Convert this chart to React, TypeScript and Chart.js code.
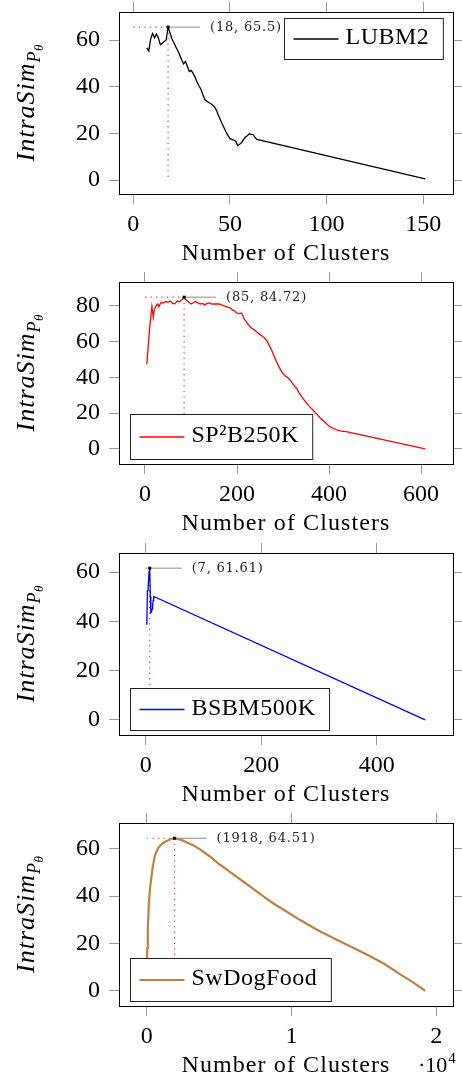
import React, { useEffect, useRef } from "react";
import { Chart, registerables } from "chart.js";

Chart.register(...registerables);

const SERIF = "'Liberation Serif', 'Times New Roman', serif";

// ---------- LUBM2 ----------
const lubmClusters = [7, 8, 9, 10, 11, 12, 13, 14, 15, 16, 17, 18, 19, 20, 21, 22, 23, 24, 25, 26, 27, 28, 29, 30, 31, 32, 33, 34, 35, 36, 37, 38, 39, 40, 41, 42, 43, 44, 45, 46, 47, 48, 49, 50, 51, 52, 53, 54, 55, 56, 57, 58, 59, 60, 61, 62, 63, 64, 151];
const lubmSim = [56.6, 55.2, 60.5, 62.8, 61.0, 62.6, 60.8, 58.0, 58.6, 59.4, 60.0, 65.5, 63.0, 60.4, 58.8, 57.0, 55.5, 53.6, 51.5, 49.8, 50.8, 48.6, 46.5, 47.0, 45.6, 44.0, 42.0, 40.3, 38.9, 36.5, 34.5, 33.8, 33.2, 32.8, 32.2, 31.3, 29.9, 27.8, 25.9, 24.0, 22.3, 20.6, 19.0, 17.9, 17.3, 17.1, 16.6, 14.8, 15.3, 16.0, 17.3, 18.4, 19.0, 19.8, 19.6, 19.4, 18.2, 17.4, 0.5];
const lubmPeak = [18, 65.5];
const lubmXTicks = [0, 50, 100, 150];
const lubmYTicks = [0, 20, 40, 60];

// ---------- SP2B250K ----------
const sp2bClusters = [4, 10, 13, 15, 18, 20, 25, 28, 30, 35, 40, 45, 50, 55, 60, 65, 70, 75, 80, 85, 90, 95, 100, 105, 110, 115, 120, 125, 130, 135, 140, 145, 150, 155, 160, 165, 170, 175, 180, 185, 190, 195, 200, 205, 210, 215, 220, 225, 230, 235, 240, 245, 250, 255, 260, 265, 270, 275, 280, 285, 290, 295, 300, 305, 310, 315, 320, 325, 330, 335, 340, 345, 350, 355, 360, 365, 370, 375, 380, 385, 390, 395, 400, 405, 410, 415, 420, 425, 430, 435, 440, 609];
const sp2bSim = [47.3, 67.0, 74.5, 79.5, 73.5, 77.5, 80.2, 80.9, 79.4, 81.8, 81.5, 82.3, 81.9, 82.6, 81.3, 81.0, 82.6, 82.2, 83.3, 84.72, 83.0, 82.0, 80.9, 81.6, 82.3, 81.5, 80.9, 81.2, 80.4, 81.2, 81.5, 80.8, 81.0, 80.9, 81.0, 80.5, 80.0, 79.6, 79.1, 78.8, 77.6, 77.0, 75.8, 75.5, 75.9, 73.0, 71.0, 69.2, 67.8, 66.9, 65.9, 64.9, 63.8, 62.9, 61.9, 60.5, 57.8, 55.2, 52.3, 49.2, 46.5, 44.0, 42.0, 40.8, 39.8, 38.6, 36.8, 35.2, 33.6, 31.3, 29.3, 27.6, 26.0, 24.4, 23.0, 21.7, 20.3, 19.0, 17.5, 16.3, 15.1, 13.8, 12.8, 11.9, 11.3, 10.8, 10.3, 10.0, 9.8, 9.7, 9.5, 0];
const sp2bPeak = [85, 84.72];
const sp2bXTicks = [0, 200, 400, 600];
const sp2bYTicks = [0, 20, 40, 60, 80];

// ---------- BSBM500K ----------
const bsbmClusters = [2, 3, 4, 5, 6, 7, 8, 9, 10, 11, 12, 13, 14, 484];
const bsbmSim = [38.6, 52.4, 52.6, 57.0, 60.4, 61.61, 50.0, 43.5, 43.8, 45.0, 46.5, 48.5, 50.1, 0];
const bsbmPeak = [7, 61.61];
const bsbmXTicks = [0, 200, 400];
const bsbmYTicks = [0, 20, 40, 60];

// ---------- SwDogFood ----------
const dogClusters = [1, 30, 70, 140, 235, 374, 533, 650, 764, 930, 1110, 1290, 1455, 1700, 1918, 2265, 2500, 2730, 3190, 3650, 4340, 5040, 5960, 7110, 8060, 8750, 9680, 10600, 11760, 12920, 14080, 15240, 16400, 17550, 18480, 19240];
const dogSim = [8, 18, 25.7, 36.9, 43.9, 50.9, 56.5, 58.6, 60.1, 61.4, 62.4, 63.1, 63.6, 64.2, 64.51, 64.0, 63.5, 62.8, 61.6, 59.9, 56.9, 53.4, 49.3, 44.2, 39.9, 36.9, 33.4, 29.9, 25.8, 22.2, 18.7, 15.2, 11.4, 6.8, 3.2, 0];
const dogPeak = [1918, 64.51];
const dogXTicks = [0, 10000, 20000];
const dogYTicks = [0, 20, 40, 60];

const W = 462;

type PanelSpec = {
  name: string;
  color: string;
  xs: number[];
  ys: number[];
  peak: number[];
  xTicks: number[];
  yTicks: number[];
  lineWidth: number;
  height: number;
  offset: number;
  top: number;
  bottom: number;
  legend: "ne" | "sw";
  legendH: number;
  xExp?: number;
};

const panels: PanelSpec[] = [
  { name: "LUBM2", color: "#000000", xs: lubmClusters, ys: lubmSim, peak: lubmPeak, xTicks: lubmXTicks, yTicks: lubmYTicks, lineWidth: 1.3, height: 270, offset: 0, top: 12, bottom: 194, legend: "ne", legendH: 41 },
  { name: "SP\u00B2B250K", color: "#ff0000", xs: sp2bClusters, ys: sp2bSim, peak: sp2bPeak, xTicks: sp2bXTicks, yTicks: sp2bYTicks, lineWidth: 1.3, height: 270, offset: 270, top: 12, bottom: 194, legend: "sw", legendH: 45 },
  { name: "BSBM500K", color: "#0000ff", xs: bsbmClusters, ys: bsbmSim, peak: bsbmPeak, xTicks: bsbmXTicks, yTicks: bsbmYTicks, lineWidth: 1.3, height: 270, offset: 540, top: 13, bottom: 195, legend: "sw", legendH: 42 },
  { name: "SwDogFood", color: "#c0803f", xs: dogClusters, ys: dogSim, peak: dogPeak, xTicks: dogXTicks, yTicks: dogYTicks, lineWidth: 2.2, height: 268, offset: 810, top: 13, bottom: 196, legend: "sw", legendH: 43, xExp: 4 },
];

function drawYTitle(ctx: CanvasRenderingContext2D, cx: number, cy: number) {
  const parts = [
    { t: "IntraSim", f: `italic 26px ${SERIF}`, dy: 0, ls: 1 },
    { t: "P", f: `italic 18px ${SERIF}`, dy: 6, ls: 0.5 },
    { t: "\u03B8", f: `italic 13px ${SERIF}`, dy: 9, ls: 0 },
  ];
  ctx.save();
  ctx.translate(cx, cy);
  ctx.rotate(-Math.PI / 2);
  ctx.fillStyle = "#000";
  ctx.textBaseline = "alphabetic";
  ctx.textAlign = "left";
  const widths = parts.map((p) => {
    ctx.font = p.f;
    (ctx as any).letterSpacing = p.ls + "px";
    return ctx.measureText(p.t).width;
  });
  const total = widths.reduce((a, b) => a + b, 0);
  let x = -total / 2;
  parts.forEach((p, i) => {
    ctx.font = p.f;
    (ctx as any).letterSpacing = p.ls + "px";
    ctx.fillText(p.t, x, p.dy);
    x += widths[i];
  });
  ctx.restore();
}

function makeOverlay(spec: PanelSpec) {
  return {
    id: "overlay",
    beforeDatasetsDraw(chart: any) {
      const { ctx } = chart;
      const xs = chart.scales.x;
      const ys = chart.scales.y;
      const px = xs.getPixelForValue(spec.peak[0]);
      const py = ys.getPixelForValue(spec.peak[1]);
      const x0 = xs.getPixelForValue(0);
      const y0 = ys.getPixelForValue(0);
      ctx.save();
      ctx.strokeStyle = "rgba(255,0,0,0.8)";
      ctx.lineWidth = 1.2;
      ctx.setLineDash([1.3, 4.2]);
      ctx.beginPath();
      ctx.moveTo(x0, py);
      ctx.lineTo(px, py);
      ctx.stroke();
      ctx.beginPath();
      ctx.moveTo(px, py);
      ctx.lineTo(px, y0);
      ctx.stroke();
      ctx.restore();
    },
    afterDraw(chart: any) {
      const { ctx, chartArea: a } = chart;
      const xs = chart.scales.x;
      const ys = chart.scales.y;
      const px = xs.getPixelForValue(spec.peak[0]);
      const py = ys.getPixelForValue(spec.peak[1]);
      ctx.save();
      // connector + peak label
      ctx.strokeStyle = "#8a8a8a";
      ctx.lineWidth = 1;
      ctx.beginPath();
      ctx.moveTo(px, py);
      ctx.lineTo(px + 32, py);
      ctx.stroke();
      ctx.fillStyle = "#000";
      ctx.fillRect(px - 1.5, py - 1.5, 3, 3);
      ctx.font = "13px 'DejaVu Serif', serif";
      (ctx as any).letterSpacing = "0.8px";
      ctx.textBaseline = "middle";
      ctx.textAlign = "left";
      ctx.fillStyle = "#222";
      ctx.fillText(`(${spec.peak[0]}, ${spec.peak[1]})`, px + 42, py);

      // legend
      ctx.font = `24px ${SERIF}`;
      (ctx as any).letterSpacing = "0.5px";
      const tw = ctx.measureText(spec.name).width;
      const w = 9 + 45 + 7 + tw + 14;
      const h = spec.legendH;
      let lx: number, ly: number;
      if (spec.legend === "ne") {
        lx = a.right - 10 - w;
        ly = a.top + 6;
      } else {
        lx = a.left + 11;
        ly = a.bottom - 5 - h;
      }
      lx = Math.round(lx) + 0.5;
      ly = Math.round(ly) + 0.5;
      ctx.fillStyle = "#fff";
      ctx.fillRect(lx, ly, w, h);
      ctx.strokeStyle = "#222";
      ctx.lineWidth = 1;
      ctx.strokeRect(lx, ly, w, h);
      const cy = ly + h / 2;
      ctx.strokeStyle = spec.color;
      ctx.lineWidth = spec.lineWidth > 2 ? 2 : 1.3;
      ctx.beginPath();
      ctx.moveTo(lx + 9, cy);
      ctx.lineTo(lx + 54, cy);
      ctx.stroke();
      ctx.fillStyle = "#000";
      ctx.textBaseline = "middle";
      ctx.fillText(spec.name, lx + 61, cy - 1);

      // x title
      ctx.font = `24px ${SERIF}`;
      (ctx as any).letterSpacing = "1.1px";
      ctx.textAlign = "center";
      ctx.textBaseline = "alphabetic";
      ctx.fillText("Number of Clusters", (a.left + a.right) / 2, a.bottom + 66);

      // scale multiplier
      if (spec.xExp) {
        ctx.textAlign = "left";
        (ctx as any).letterSpacing = "0px";
        ctx.font = `22px ${SERIF}`;
        const base = "\u00B710";
        ctx.fillText(base, 418, a.bottom + 66);
        const bw = ctx.measureText(base).width;
        ctx.font = `15px ${SERIF}`;
        ctx.fillText(String(spec.xExp), 418 + bw + 1, a.bottom + 57);
      }
      ctx.restore();

      // y title
      drawYTitle(ctx, 34, (a.top + a.bottom) / 2);
    },
  };
}

function PanelChart({ spec }: { spec: PanelSpec }) {
  const ref = useRef<HTMLCanvasElement | null>(null);
  useEffect(() => {
    const canvas = ref.current;
    if (!canvas) return;
    const xMin = Math.min(...spec.xs);
    const xMax = Math.max(...spec.xs);
    const yMin = Math.min(...spec.ys);
    const yMax = Math.max(...spec.ys);
    const ex = 0.1 * (xMax - xMin);
    const ey = 0.1 * (yMax - yMin);
    const tickFont = { family: SERIF, size: 24 };
    const grid = { display: true, drawOnChartArea: false, drawTicks: true, tickLength: 10, tickColor: "#9a9a9a", tickWidth: 1 };
    const border = { display: true, color: "#000", width: 1 };
    const fixTicks = (vals: number[]) => (scale: any) => {
      scale.ticks = vals.map((v) => ({ value: v }));
    };
    const noPad = (s: any) => {
      s.paddingTop = 0;
      s.paddingBottom = 0;
      s.paddingLeft = 0;
      s.paddingRight = 0;
    };
    const xLabel = (v: any) => (spec.xExp ? String(Number(v) / Math.pow(10, spec.xExp)) : String(v));
    const chart = new Chart(canvas, {
      type: "line",
      data: {
        datasets: [
          {
            label: spec.name,
            data: spec.xs.map((x, i) => ({ x, y: spec.ys[i] })),
            borderColor: spec.color,
            backgroundColor: spec.color,
            borderWidth: spec.lineWidth,
            pointRadius: 0,
            tension: 0,
            fill: false,
            xAxisID: "x",
            yAxisID: "y",
          },
        ],
      },
      options: {
        responsive: false,
        animation: false,
        devicePixelRatio: 1,
        layout: { padding: 0 },
        plugins: { legend: { display: false }, tooltip: { enabled: false }, title: { display: false } },
        scales: {
          x: {
            type: "linear",
            position: "bottom",
            min: xMin - ex,
            max: xMax + ex,
            afterBuildTicks: fixTicks(spec.xTicks),
            grid,
            border,
            ticks: { font: tickFont, color: "#000", padding: 6, maxRotation: 0, autoSkip: false, callback: xLabel },
            afterFit: (s: any) => {
              s.height = spec.height - spec.bottom;
              noPad(s);
            },
          },
          xTop: {
            type: "linear",
            position: "top",
            min: xMin - ex,
            max: xMax + ex,
            afterBuildTicks: fixTicks(spec.xTicks),
            grid,
            border,
            ticks: { display: false },
            afterFit: (s: any) => {
              s.height = spec.top;
              noPad(s);
            },
          },
          y: {
            type: "linear",
            position: "left",
            min: yMin - ey,
            max: yMax + ey,
            afterBuildTicks: fixTicks(spec.yTicks),
            grid,
            border,
            ticks: { font: tickFont, color: "#000", padding: 9, autoSkip: false },
            afterFit: (s: any) => {
              s.width = 119;
              noPad(s);
            },
          },
          yRight: {
            type: "linear",
            position: "right",
            min: yMin - ey,
            max: yMax + ey,
            afterBuildTicks: fixTicks(spec.yTicks),
            grid,
            border,
            ticks: { display: false },
            afterFit: (s: any) => {
              s.width = W - 453;
              noPad(s);
            },
          },
        },
      } as any,
      plugins: [makeOverlay(spec) as any],
    });
    return () => chart.destroy();
  }, [spec]);
  return <canvas ref={ref} width={W} height={spec.height} style={{ display: "block", width: W, height: spec.height }} />;
}

export default function App() {
  return (
    <div style={{ position: "absolute", left: 0, top: 0, width: W, height: 1078, background: "#fff", overflow: "hidden" }}>
      {panels.map((p, i) => (
        <div key={i} style={{ position: "absolute", left: 0, top: p.offset, width: W, height: p.height }}>
          <PanelChart spec={p} />
        </div>
      ))}
    </div>
  );
}
